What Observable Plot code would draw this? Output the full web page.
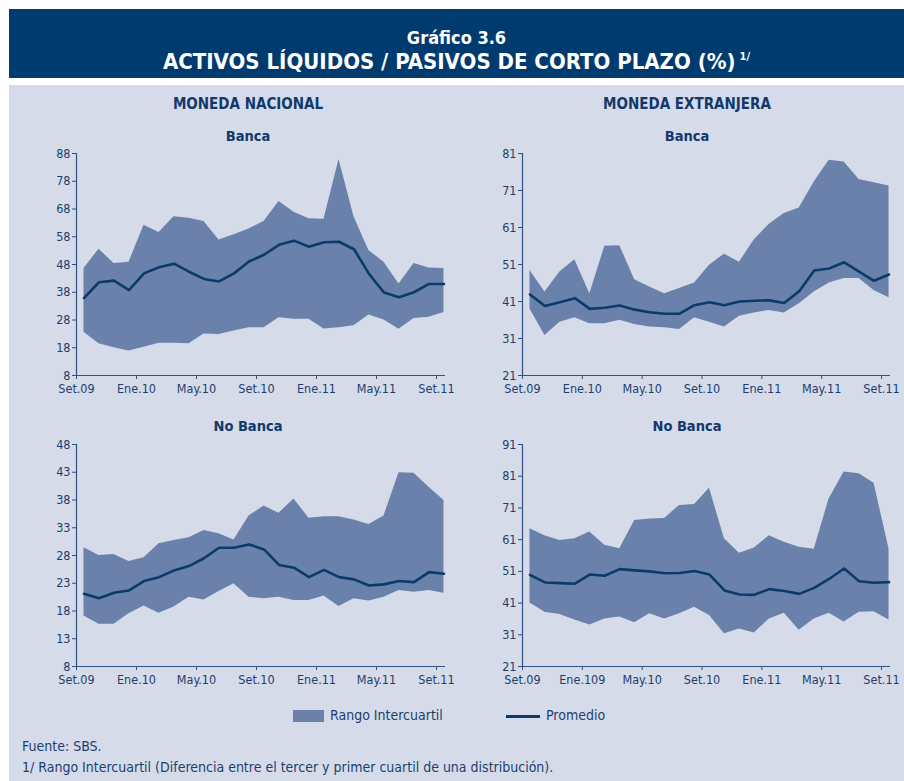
<!DOCTYPE html>
<html>
<head>
<meta charset="utf-8">
<script src="https://cdn.jsdelivr.net/npm/d3@7"></script>
<script src="https://cdn.jsdelivr.net/npm/@observablehq/plot@0.6"></script>
<style>
  html, body { margin: 0; padding: 0; background: #ffffff; }
  body { width: 904px; height: 781px; position: relative; overflow: hidden;
         font-family: "Liberation Sans Narrow", "DejaVu Sans Condensed", "Roboto", sans-serif; color: #1d3f6f; }
  #banner { position: absolute; left: 9px; top: 9px; width: 895px; height: 69px; background: #003b70; color: #fff; text-align: center; }
  #banner .l1 { position: absolute; left: 0; right: 0; top: 19px; font-size: 18px; font-weight: bold; line-height: 20px; }
  #banner .l2 { position: absolute; left: 0; right: 0; top: 41px; font-size: 22px; font-weight: bold; line-height: 24px; }
  #banner sup { font-size: 11px; vertical-align: 9px; line-height: 0; margin-left: 4px; }
  #panel { position: absolute; left: 9px; top: 85px; width: 895px; height: 696px; background: #d5dbe8; }
  .ttl { position: absolute; width: 440px; text-align: center; font-weight: bold; color: #12396b; }
  .big { font-size: 15px; }
  .small { font-size: 14.5px; }
  .chart { position: absolute; }
  #legend { position: absolute; top: 707px; left: 0; width: 904px; height: 20px; font-size: 14px; color: #1d3f6f; }
  #sw { position: absolute; left: 293px; top: 3px; width: 31px; height: 12px; background: #6a82ab; }
  #lt1 { position: absolute; left: 330px; top: 0px; }
  #ln { position: absolute; left: 506px; top: 8px; width: 34px; height: 3px; background: #0b3a6b; }
  #lt2 { position: absolute; left: 546px; top: 0px; }
  .foot { position: absolute; left: 22px; font-size: 14px; color: #1d3f6f; }
</style>
</head>
<body>
<div id="banner">
  <div class="l1">Gráfico 3.6</div>
  <div class="l2">ACTIVOS LÍQUIDOS / PASIVOS DE CORTO PLAZO (%)<sup>1/</sup></div>
</div>
<div id="panel"></div>
<div class="ttl big" style="left:28px; top:95px;">MONEDA NACIONAL</div>
<div class="ttl big" style="left:467px; top:95px;">MONEDA EXTRANJERA</div>
<div class="ttl small" style="left:28px; top:128px;">Banca</div>
<div class="ttl small" style="left:467px; top:128px;">Banca</div>
<div class="ttl small" style="left:28px; top:418px;">No Banca</div>
<div class="ttl small" style="left:467px; top:418px;">No Banca</div>
<div id="c1" class="chart" style="left:0px; top:140px;"></div>
<div id="c2" class="chart" style="left:450px; top:140px;"></div>
<div id="c3" class="chart" style="left:0px; top:431px;"></div>
<div id="c4" class="chart" style="left:450px; top:431px;"></div>
<div id="legend">
  <div id="sw"></div><div id="lt1">Rango Intercuartil</div>
  <div id="ln"></div><div id="lt2">Promedio</div>
</div>
<div class="foot" style="top:738px;">Fuente: SBS.</div>
<div class="foot" style="top:759px;">1/ Rango Intercuartil (Diferencia entre el tercer y primer cuartil de una distribución).</div>
<script>
// Monthly observations, Sep 2009 .. Sep 2011 (25 months)
const months = ["Set.09","Oct.09","Nov.09","Dic.09","Ene.10","Feb.10","Mar.10","Abr.10","May.10","Jun.10","Jul.10","Ago.10","Set.10","Oct.10","Nov.10","Dic.10","Ene.11","Feb.11","Mar.11","Abr.11","May.11","Jun.11","Jul.11","Ago.11","Set.11"];

// Moneda nacional - Banca
const mnBancaMean = [35.9,41.6,42.2,38.8,44.8,47.0,48.3,45.4,42.8,41.9,44.8,49.1,51.5,55.1,56.6,54.4,56.0,56.2,53.5,44.6,37.9,36.2,38.0,41.0,41.0];
const mnBancaQ3   = [46.6,53.5,48.4,48.8,62.1,59.5,65.2,64.7,63.5,56.8,58.7,60.8,63.5,70.7,66.8,64.5,64.3,85.8,65.2,53.0,48.8,41.0,48.4,46.7,46.6];
const mnBancaQ1   = [23.6,19.4,18.0,16.8,18.2,19.6,19.6,19.4,23.0,22.8,24.0,25.2,25.2,28.8,28.3,28.3,24.8,25.2,25.9,29.8,28.0,24.7,28.5,29.0,30.7];

// Moneda extranjera - Banca
const meBancaMean = [42.9,39.8,40.8,41.9,39.0,39.3,39.9,38.8,38.1,37.7,37.7,40.0,40.8,40.0,41.0,41.2,41.3,40.6,43.8,49.4,49.9,51.6,49.1,46.6,48.3];
const meBancaQ3   = [49.4,43.6,49.0,52.3,43.1,55.9,56.1,46.9,44.9,43.1,44.5,46.0,50.8,53.8,51.6,57.7,61.9,64.8,66.3,73.3,79.2,78.7,74.0,73.1,72.2];
const meBancaQ1   = [39.0,31.8,35.4,36.6,35.0,35.0,35.9,34.8,34.1,33.9,33.4,36.6,35.4,34.1,37.0,37.9,38.6,37.9,40.4,43.6,46.0,47.2,47.2,44.0,42.0];

// Moneda nacional - No Banca
const mnNoBancaMean = [21.1,20.3,21.3,21.7,23.4,24.1,25.3,26.1,27.5,29.4,29.4,30.0,29.1,26.3,25.8,24.1,25.4,24.1,23.7,22.6,22.8,23.4,23.2,25.0,24.7];
const mnNoBancaQ3   = [29.4,28.0,28.2,26.9,27.6,30.1,30.7,31.2,32.5,31.9,30.8,35.1,36.9,35.6,38.2,34.7,35.0,35.0,34.4,33.6,35.1,42.9,42.8,40.3,37.9];
const mnNoBancaQ1   = [17.1,15.6,15.6,17.5,18.9,17.6,18.7,20.5,20.0,21.5,22.9,20.5,20.2,20.5,19.9,19.9,20.7,18.8,20.2,19.8,20.5,21.7,21.4,21.7,21.2];

// Moneda extranjera - No Banca
const meNoBancaMean = [49.9,47.5,47.3,47.1,50.0,49.6,51.7,51.3,51.0,50.4,50.5,51.1,50.0,45.0,43.7,43.6,45.4,44.8,43.9,45.8,48.6,51.9,47.9,47.4,47.6];
const meNoBancaQ3   = [64.4,62.2,60.7,61.3,63.4,59.2,58.1,67.0,67.5,67.7,71.8,72.1,77.2,61.3,56.7,58.4,62.2,60.2,58.6,58.0,73.9,82.3,81.8,78.8,58.1];
const meNoBancaQ1   = [41.0,38.1,37.4,35.7,34.1,36.0,36.6,34.8,37.6,36.0,37.6,39.7,37.1,31.3,32.8,31.6,36.0,37.8,32.4,36.0,37.8,35.0,38.1,38.3,35.7];

// Axis tick labels
const xTickLabelsA = ["Set.09","Ene.10","May.10","Set.10","Ene.11","May.11","Set.11"];
const xTickLabelsB = ["Set.09","Ene.109","May.10","Set.10","Ene.11","May.11","Set.11"];
const yTicks1 = [8,18,28,38,48,58,68,78,88];
const yTicks2 = [21,31,41,51,61,71,81];
const yTicks3 = [8,13,18,23,28,33,38,43,48];
const yTicks4 = [21,31,41,51,61,71,81,91];

const BAND = "#6a82ab", LINE = "#0b3a6b", AXIS = "#2f5283";
// tick positions at the start of every 4th month (months are centered on their index)
const xTickPos = [0,4,8,12,16,20,24].map(i => i - 0.5);

function chart(el, mean, q1, q3, yTicks, xLabels, left, right) {
  const data = months.map((m, i) => ({i, m, mean: mean[i], q1: q1[i], q3: q3[i]}));
  const labelMap = new Map(xTickPos.map((p, k) => [p, xLabels[k]]));
  const yMin = yTicks[0], yMax = yTicks[yTicks.length - 1];
  const p = Plot.plot({
    width: left === 76 ? 460 : 454,
    height: 270,
    marginLeft: left, marginRight: right, marginTop: 13, marginBottom: 35,
    style: {background: "transparent", color: AXIS, fontSize: "12.5px",
            fontFamily: '"Liberation Sans Narrow", "DejaVu Sans Condensed", sans-serif', overflow: "visible"},
    x: {type: "linear", domain: [-0.5, 24.1], axis: null},
    y: {domain: [yMin, yMax], axis: null},
    marks: [
      Plot.areaY(data, {x: "i", y1: "q1", y2: "q3", fill: BAND, fillOpacity: 1}),
      Plot.lineY(data, {x: "i", y: "mean", stroke: LINE, strokeWidth: 2.6, strokeLinejoin: "round"}),
      Plot.ruleX([-0.5], {stroke: AXIS, strokeWidth: 1.2}),
      Plot.ruleY([yMin], {stroke: AXIS, strokeWidth: 1.2}),
      Plot.axisY({ticks: yTicks, tickSize: 4, tickPadding: 2, label: null, tickFormat: d => String(d), fill: "#1d3f6f", stroke: AXIS}),
      Plot.axisX({ticks: xTickPos, tickSize: 4, tickPadding: 5, label: null, tickFormat: d => labelMap.get(d), fill: "#1d3f6f", stroke: AXIS})
    ]
  });
  document.getElementById(el).appendChild(p);
}

chart("c1", mnBancaMean, mnBancaQ1, mnBancaQ3, yTicks1, xTickLabelsA, 76, 15);
chart("c2", meBancaMean, meBancaQ1, meBancaQ3, yTicks2, xTickLabelsA, 72, 14);
chart("c3", mnNoBancaMean, mnNoBancaQ1, mnNoBancaQ3, yTicks3, xTickLabelsA, 76, 15);
chart("c4", meNoBancaMean, meNoBancaQ1, meNoBancaQ3, yTicks4, xTickLabelsB, 72, 14);
</script>
</body>
</html>
